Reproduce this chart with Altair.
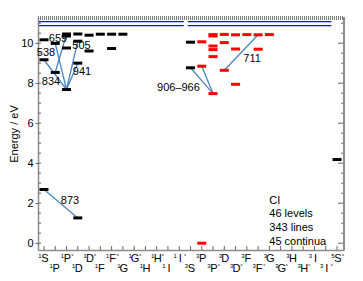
import altair as alt
import pandas as pd
import numpy as np

# ---- term columns (x axis categories) ----
term_mult = ["1"] * 13 + ["3"] * 13 + ["5"]
term_letter = ["S", "P", "P", "D", "D", "F", "F", "G", "G", "H", "H", "I", "I",
               "S", "P", "P", "D", "D", "F", "F", "G", "G", "H", "H", "I", "I", "S"]
term_parity = ["", "", "°", "", "°", "", "°", "", "°", "", "°", "", "°",
               "", "", "°", "", "°", "", "°", "", "°", "", "°", "", "°", "°"]

# ---- energy levels (term column index, energy in eV, colour) ----
level_term = [0, 0, 0, 1, 1, 2, 2, 2, 2, 3, 3, 3, 3, 4, 4, 5, 6, 6, 7,
              13, 13, 14, 14, 14, 15, 15, 15, 15, 15, 15, 16, 16, 16,
              17, 17, 17, 18, 19, 19, 20, 26]
level_energy = [2.684, 9.172, 10.17, 8.537, 9.99, 7.685, 9.76, 10.36, 10.46,
                1.264, 9.003, 10.1, 10.46, 9.61, 10.4, 10.45, 9.736, 10.45, 10.45,
                8.771, 10.05, 0.0, 8.85, 10.07, 7.48, 9.33, 9.68, 9.86, 10.36, 10.43,
                8.645, 10.03, 10.44, 7.946, 9.71, 10.42, 10.43, 9.70, 10.42, 10.43, 4.183]
level_color = ["black"] * 19 + ["black", "black"] + ["red"] * 19 + ["black"]

# ---- transitions (lower term, lower E, upper term, upper E) ----
tr_lo_term = [3, 2, 2, 1, 2, 2, 15, 15, 16]
tr_lo_E = [1.264, 7.685, 7.685, 8.537, 7.685, 7.685, 7.48, 7.48, 8.645]
tr_hi_term = [0, 0, 1, 2, 3, 3, 13, 14, 19]
tr_hi_E = [2.684, 9.172, 9.99, 10.46, 10.1, 9.003, 8.771, 8.85, 10.42]

# ---- wavelength annotations ----
ann_text = ["873", "834", "538", "659", "505", "941", "906–966", "711"]
ann_x = [2.31, 0.62, 0.18, 1.24, 3.33, 3.37, 11.93, 18.46]
ann_E = [2.12, 8.07, 9.52, 10.19, 9.87, 8.54, 7.77, 9.2]

# ---- ionisation limits per spin system ----
lim_x0 = [-0.45, -0.45, 12.75, 12.75]
lim_x1 = [12.4, 12.4, 25.5, 25.5]
lim_E = [11.08, 10.88, 11.08, 10.88]

# ---- info text ----
info_text = ["CI", "46 levels", "343 lines", "45 continua"]
info_E = [2.12, 1.45, 0.75, 0.05]

W, H = 306, 233
FONT = "Liberation Sans"
xs = alt.Scale(domain=[-0.53, 26.62], nice=False, zero=False)
ys = alt.Scale(domain=[-0.34, 11.31], nice=False, zero=False)
xax = alt.Axis(title=None, labels=False, ticks=False, grid=False,
               domainColor="#8c8c8c", domainWidth=1.5)
yax = alt.Axis(title="Energy / eV", values=[0, 2, 4, 6, 8, 10], grid=False,
               tickSize=3, tickColor="#666", domainColor="#8c8c8c", domainWidth=1.5,
               labelFont=FONT, labelFontSize=11, labelColor="black", labelPadding=2,
               titleFont=FONT, titleFontSize=11, titleFontWeight="normal",
               titleColor="black", titlePadding=1)


def X(f):
    return alt.X(f, type="quantitative", scale=xs, axis=xax)


def Y(f):
    return alt.Y(f, type="quantitative", scale=ys, axis=yax)


terms = pd.DataFrame({"i": list(range(len(term_letter))), "m": term_mult,
                      "L": term_letter, "p": term_parity})
terms["row"] = terms["i"] % 2

levels = pd.DataFrame({"t": level_term, "E": level_energy, "c": level_color})
levels["x0"] = levels["t"] - 0.4
levels["x1"] = levels["t"] + 0.4

trans = pd.DataFrame({"x0": tr_lo_term, "E0": tr_lo_E, "x1": tr_hi_term, "E1": tr_hi_E})
ann = pd.DataFrame({"t": ann_text, "x": ann_x, "E": ann_E})
lims = pd.DataFrame({"x0": lim_x0, "x1": lim_x1, "E": lim_E})
info = pd.DataFrame({"t": info_text, "E": info_E, "x": [19.99] * 4})
yt = pd.DataFrame({"E": np.arange(0, 11.01, 0.5)})
yt["major"] = (yt["E"] % 2 == 0)

base = alt.Chart(terms)

# inward ticks on bottom axis
bticks = base.mark_rule(color="#666", strokeWidth=1).encode(
    x=X("i"), y=alt.value(H), y2=alt.value(H - 4))
# tick labels: letters and superscripts in two rows
lab_top = base.transform_filter("datum.row == 0")
lab_bot = base.transform_filter("datum.row == 1")
letter_kw = dict(font=FONT, fontSize=11, align="center", baseline="middle", color="black")
sup_kw = dict(font=FONT, fontSize=6, align="center", baseline="middle", color="black")
labels = []
for sub, yy in [(lab_top, H + 9), (lab_bot, H + 19)]:
    labels.append(sub.mark_text(dx=1, **letter_kw).encode(x=X("i"), y=alt.value(yy), text="L:N"))
    labels.append(sub.mark_text(dx=-4, dy=-3, **sup_kw).encode(x=X("i"), y=alt.value(yy), text="m:N"))
    labels.append(sub.mark_text(dx=6, dy=-3, **sup_kw).encode(x=X("i"), y=alt.value(yy), text="p:N"))

# inner ticks on left and right sides
ytc = alt.Chart(yt)
lticks = ytc.mark_rule(color="#666", strokeWidth=1).encode(
    y=Y("E"), x=alt.value(0), x2=alt.value(3))
rticks_min = ytc.transform_filter("!datum.major").mark_rule(color="#666", strokeWidth=1).encode(
    y=Y("E"), x=alt.value(W), x2=alt.value(W - 3))
rticks_maj = ytc.transform_filter("datum.major").mark_rule(color="#666", strokeWidth=1).encode(
    y=Y("E"), x=alt.value(W), x2=alt.value(W - 6))
rborder = ytc.mark_rule(color="#8c8c8c", strokeWidth=1.5).encode(
    x=alt.value(W), y=alt.value(0), y2=alt.value(H))
topdots = ytc.mark_rule(color="#7a7a7a", strokeWidth=3, strokeDash=[1, 1]).encode(
    x=alt.value(0), x2=alt.value(W), y=alt.value(1))

limit_lines = alt.Chart(lims).mark_rule(color="#1010ff", strokeWidth=1.2).encode(
    x=X("x0"), x2="x1", y=Y("E"))
trans_lines = alt.Chart(trans).mark_rule(color="#4a86be", strokeWidth=1.3).encode(
    x=X("x0"), x2="x1", y=Y("E0"), y2="E1")
level_bars = alt.Chart(levels).mark_rule(strokeWidth=3).encode(
    x=X("x0"), x2="x1", y=Y("E"), color=alt.Color("c:N", scale=None))
ann_text_l = alt.Chart(ann).mark_text(font=FONT, fontSize=11, color="black",
                                      align="center", baseline="middle").encode(
    x=X("x"), y=Y("E"), text="t:N")
info_l = alt.Chart(info).mark_text(font=FONT, fontSize=11, color="black",
                                   align="left", baseline="middle").encode(
    x=X("x"), y=Y("E"), text="t:N")

chart = alt.layer(
    topdots, limit_lines, trans_lines, level_bars, ann_text_l, info_l,
    lticks, rticks_min, rticks_maj, rborder, bticks, *labels
).properties(
    width=W, height=H, autosize="none",
    padding={"left": 30, "top": 9, "right": 5, "bottom": 23}
).configure_view(stroke=None)

chart.save("out.html", embed_options={"renderer": "svg", "actions": False})
